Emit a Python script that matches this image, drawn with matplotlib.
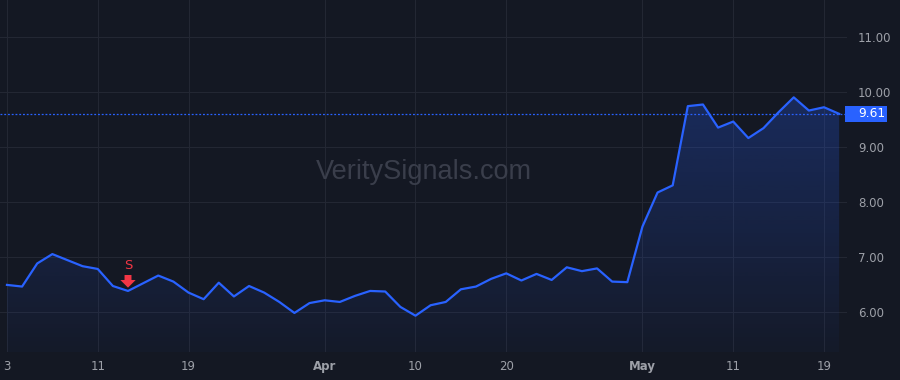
import numpy as np
import pandas as pd
import matplotlib
matplotlib.use('Agg')
import matplotlib.pyplot as plt
from matplotlib.patches import Rectangle


# Daily closes, trading days Mar 3 - May 20 2026 (Good Friday closed).
dates = pd.bdate_range('2026-03-03', '2026-05-20')
dates = dates[dates != pd.Timestamp('2026-04-03')]
closes = [6.50, 6.47, 6.89, 7.06, 6.95, 6.84, 6.79, 6.48, 6.39, 6.53,
          6.67, 6.56, 6.36, 6.24, 6.54, 6.29, 6.48, 6.36, 6.19, 5.99,
          6.17, 6.22, 6.19, 6.30, 6.39, 6.38, 6.10, 5.94, 6.13, 6.19,
          6.42, 6.47, 6.61, 6.71, 6.58, 6.70, 6.59, 6.82, 6.75, 6.80,
          6.56, 6.55, 7.56, 8.18, 8.31, 9.75, 9.78, 9.36, 9.47, 9.17,
          9.35, 9.64, 9.91, 9.67, 9.73, 9.61]
tick_dates = ['2026-03-03', '2026-03-11', '2026-03-19', '2026-04-01', '2026-04-10',
              '2026-04-20', '2026-05-01', '2026-05-11', '2026-05-19']
price_ticks = [6.0, 7.0, 8.0, 9.0, 10.0, 11.0]
signal_date = '2026-03-13'
signal_label = 'S'
watermark = 'VeritySignals.com'
#====================================================================================================


bg = '#141823'
grid_c = '#232733'
blue = '#2962ff'
red = '#f23645'
txt_c = '#9da0a8'

x = np.arange(len(closes))
y = np.array(closes)
last = closes[-1]

fig = plt.figure(figsize=(9, 3.8), dpi=100)
fig.patch.set_facecolor(bg)
ax = fig.add_axes([0, 28/380, 847/900, 352/380])
ax.set_facecolor(bg)

# Grid
for p in price_ticks:
    ax.axhline(p, color=grid_c, lw=0.8, zorder=0)
tick_idx = [dates.get_loc(pd.Timestamp(d)) for d in tick_dates]
for i in tick_idx:
    ax.axvline(i, color=grid_c, lw=0.8, zorder=0)

# Area with gradient
poly = ax.fill_between(x, y, 5.0, facecolor='none', edgecolor='none')
grad = np.zeros((256, 1, 4))
grad[:, 0, :3] = matplotlib.colors.to_rgb(blue)
grad[:, 0, 3] = np.linspace(0.03, 0.26, 256)
im = ax.imshow(grad, extent=[x[0], x[-1], 5.28, max(closes)], aspect='auto',
               origin='lower', zorder=1, interpolation='bilinear')
im.set_clip_path(poly.get_paths()[0], transform=ax.transData)
ax.set_xlim(-0.46, 55.52)
ax.set_ylim(5.28, 11.68)

ax.plot(x, y, color=blue, lw=1.6, zorder=3)

# Last price line + label
ax.axhline(last, color=blue, lw=0.9, ls=(0, (1.5, 1.5)), zorder=2)
trans = ax.get_yaxis_transform()
ax.add_patch(Rectangle((1.0 - 2/847, last - 0.145), 42/847, 0.29, transform=trans,
                       facecolor=blue, edgecolor='none', clip_on=False, zorder=5))
ax.text(1.0 + 11/847, last, '%.2f' % last, transform=trans, color='white',
        fontsize=8.8, ha='left', va='center', zorder=6)

# Signal marker
si = dates.get_loc(pd.Timestamp(signal_date))
ax.annotate('', xy=(si, 6.45), xytext=(si, 6.68),
            arrowprops=dict(arrowstyle='simple,head_width=1.1,head_length=0.55,tail_width=0.5',
                            color=red, lw=0, shrinkA=0, shrinkB=0), zorder=6)
ax.text(si, 6.86, signal_label, color=red, fontsize=9.5, ha='center', va='center', zorder=6)

# Watermark
ax.text(0.5, 0.51, watermark, transform=ax.transAxes, fontsize=19.5,
        family='Liberation Sans', color='#3a3e4b', ha='center', va='center', zorder=1)

# Axes
ax.yaxis.tick_right()
ax.set_yticks(price_ticks)
ax.set_yticklabels(['%.2f' % p for p in price_ticks])
ax.set_xticks(tick_idx)
labels = []
for d in tick_dates:
    t = pd.Timestamp(d)
    labels.append(t.strftime('%b') if t.day == 1 else str(t.day))
ax.set_xticklabels(labels)
for lab, d in zip(ax.get_xticklabels(), tick_dates):
    if pd.Timestamp(d).day == 1:
        lab.set_fontweight('bold')
ax.tick_params(axis='both', length=0, colors=txt_c, labelsize=8.5)
ax.tick_params(axis='y', pad=8)
ax.tick_params(axis='x', pad=6)
for s in ax.spines.values():
    s.set_visible(False)

plt.savefig('out.png', dpi=100, facecolor=bg)
